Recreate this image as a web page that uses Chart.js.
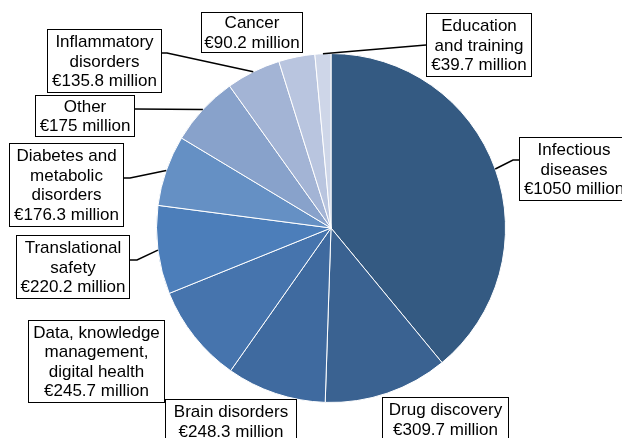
<!DOCTYPE html>
<html lang="en">
<head>
  <meta charset="UTF-8" />
  <title>Funding by research area</title>
  <script src="https://cdn.jsdelivr.net/npm/chart.js"></script>
  <style>
    html, body { margin: 0; padding: 0; background: #fff; }
    #wrap { width: 622px; height: 438px; position: relative; }
  </style>
</head>
<body>
  <div id="wrap"><canvas id="pie"></canvas></div>

  <script>
    const categories = ['Infectious diseases', 'Drug discovery', 'Brain disorders',
      'Data, knowledge management, digital health', 'Translational safety',
      'Diabetes and metabolic disorders', 'Other', 'Inflammatory disorders', 'Cancer',
      'Education and training'];
    const values = [1050, 309.7, 248.3, 245.7, 220.2, 176.3, 175, 135.8, 90.2, 39.7];
    const colours = ['#345a82', '#3a6291', '#3f6a9f', '#4674ad', '#4c7eba',
      '#6590c4', '#88a2cb', '#a3b4d5', '#b9c5df', '#ced6e8'];

    // label boxes (left, top, width, height), the name split in lines, and the leader start / elbow
    const boxes = [
      { box: [519, 137, 110, 64], lines: ['Infectious', 'diseases'], from: [519, 160], elbow: [513, 160] },
      { box: [382, 397, 127, 45], lines: ['Drug discovery'] },
      { box: [165, 399, 132, 45], lines: ['Brain disorders'] },
      { box: [28, 320, 137, 83], lines: ['Data, knowledge', 'management,', 'digital health'] },
      { box: [16, 235, 114, 64], lines: ['Translational', 'safety'], from: [130, 260], elbow: [137, 260] },
      { box: [9, 143, 115, 84], lines: ['Diabetes and', 'metabolic', 'disorders'], from: [124, 178], elbow: [130, 178] },
      { box: [35, 95, 100, 42], lines: ['Other'], from: [135, 109] },
      { box: [47, 29, 115, 64], lines: ['Inflammatory', 'disorders'], from: [162, 53], elbow: [167, 53] },
      { box: [201, 12, 102, 41], lines: ['Cancer'] },
      { box: [426, 13, 106, 64], lines: ['Education', 'and training'], from: [426, 45] }
    ];

    const boxLabels = {
      id: 'boxLabels',
      afterDraw(chart) {
        const ctx = chart.ctx;
        const meta = chart.getDatasetMeta(0);
        ctx.save();

        // leader lines first, boxes sit on top
        ctx.strokeStyle = '#000';
        ctx.lineWidth = 1.5;
        boxes.forEach((b, i) => {
          if (!b.from) return;
          const a = meta.data[i].getProps(['x', 'y', 'startAngle', 'endAngle', 'outerRadius'], true);
          const mid = (a.startAngle + a.endAngle) / 2;
          const px = a.x + Math.cos(mid) * a.outerRadius;
          const py = a.y + Math.sin(mid) * a.outerRadius;
          ctx.beginPath();
          ctx.moveTo(b.from[0], b.from[1]);
          if (b.elbow) ctx.lineTo(b.elbow[0], b.elbow[1]);
          ctx.lineTo(px, py);
          ctx.stroke();
        });

        ctx.font = '17px "Liberation Sans", Arial, sans-serif';
        ctx.textAlign = 'center';
        ctx.textBaseline = 'middle';
        const lh = 19.5;
        boxes.forEach((b, i) => {
          const [x, y, w, h] = b.box;
          ctx.fillStyle = '#fff';
          ctx.fillRect(x, y, w, h);
          ctx.strokeStyle = '#000';
          ctx.lineWidth = 1;
          ctx.strokeRect(x + 0.5, y + 0.5, w - 1, h - 1);

          const lines = b.lines.concat(['€' + values[i] + ' million']);
          const cy = y + h / 2 + 1;
          ctx.fillStyle = '#000';
          lines.forEach((t, k) => {
            ctx.fillText(t, x + w / 2, cy + (k - (lines.length - 1) / 2) * lh);
          });
        });
        ctx.restore();
      }
    };

    new Chart(document.getElementById('pie'), {
      type: 'pie',
      data: {
        labels: categories,
        datasets: [{
          data: values,
          backgroundColor: colours,
          borderColor: '#fff',
          borderWidth: 1
        }]
      },
      options: {
        responsive: true,
        maintainAspectRatio: false,
        animation: false,
        layout: { padding: { left: 156, right: 116, top: 53, bottom: 35 } },
        plugins: {
          legend: { display: false },
          tooltip: { enabled: false }
        }
      },
      plugins: [boxLabels]
    });
  </script>
</body>
</html>
